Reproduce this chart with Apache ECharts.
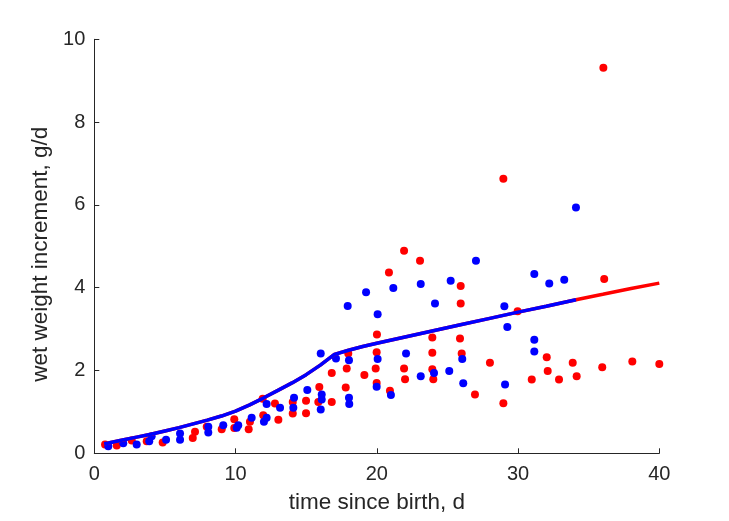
<!DOCTYPE html>
<html><head><meta charset="utf-8">
<script src="https://cdn.jsdelivr.net/npm/echarts@6/dist/echarts.min.js"></script>
<style>html,body{margin:0;padding:0;background:#fff}#c{width:729px;height:521px}</style>
</head><body><div id="c"></div>
<script>
const redPoints = [
[0.76,0.21],[1.59,0.19],[2.65,0.31],[3.71,0.29],[4.84,0.26],[6.97,0.37],[7.13,0.52],[7.96,0.64],[9.02,0.58],[9.91,0.82],[9.91,0.61],
[10.93,0.58],[11.02,0.76],[11.96,0.92],[11.92,1.32],[12.79,1.20],[13.03,0.81],[14.05,1.24],[14.05,0.96],[14.99,1.27],[14.99,0.97],
[15.93,1.60],[15.86,1.24],[16.81,1.24],[16.81,1.94],[17.87,2.05],[17.80,1.59],[17.98,2.41],[19.12,1.89],[19.92,2.05],[19.99,1.70],
[19.99,2.44],[20.01,2.87],[20.93,1.51],[20.86,4.37],[21.93,4.89],[21.93,2.05],[22.00,1.79],[23.06,4.65],[23.93,2.80],[23.93,2.43],
[23.93,2.03],[24.00,1.79],[25.94,4.04],[25.94,3.62],[25.89,2.77],[26.01,2.41],[26.95,1.42],[28.96,6.63],[36.10,4.21],[29.97,3.43],
[28.01,2.19],[32.03,2.32],[32.10,1.99],[30.97,1.78],[32.90,1.78],[33.87,2.19],[34.15,1.86],[35.96,2.08],[38.09,2.22],[40.00,2.16],
[28.96,1.21],[36.04,9.31]
];
const bluePoints = [
[0.99,0.17],[2.05,0.24],[3.00,0.21],[3.89,0.29],[4.06,0.41],[5.08,0.33],[6.07,0.33],[6.07,0.48],[8.07,0.50],[8.07,0.64],[9.13,0.68],
[10.08,0.62],[10.19,0.68],[11.14,0.86],[12.01,0.76],[12.20,0.86],[12.20,1.19],[13.15,1.10],[14.14,1.34],[14.09,1.10],[15.08,1.53],
[16.03,2.41],[16.10,1.42],[16.10,1.30],[16.03,1.06],[17.11,2.29],[17.94,3.56],[18.03,2.25],[18.03,1.34],[18.05,1.19],[19.24,3.89],
[20.06,3.36],[20.06,2.28],[19.99,1.61],[21.00,1.41],[21.17,3.99],[22.07,2.41],[23.11,4.09],[23.11,1.86],[24.12,3.62],[24.05,1.94],
[25.13,1.99],[25.23,4.17],[26.05,2.28],[26.12,1.69],[27.02,4.65],[34.10,5.94],[31.15,4.33],[32.21,4.10],[33.27,4.19],[29.03,3.55],
[29.24,3.05],[31.15,2.74],[31.15,2.46],[29.08,1.66]
];
const fitDays = [0.7,1,2,3,4,5,6,7,8,9,10,11,12,13,14,15,16,17,18,19,20,22,24,26,28,30,32,34.1,36,38,40];
const fitValues = [0.23,0.25,0.32,0.39,0.46,0.54,0.62,0.71,0.80,0.90,1.02,1.17,1.34,1.52,1.70,1.90,2.13,2.39,2.49,2.58,2.66,2.81,2.96,3.11,3.26,3.41,3.55,3.71,3.84,3.98,4.11];
const blueFitEnd = 34.1;
const xTicks = [0,10,20,30,40];
const yTicks = [0,2,4,6,8,10];

const redFit = fitDays.map((d,i)=>[d,fitValues[i]]);
const blueFit = redFit.filter(p=>p[0]<=blueFitEnd);

const txt = '#262626';
const font = "'Liberation Sans', Arial, Helvetica, sans-serif";
const chart = echarts.init(document.getElementById('c'), null, {renderer:'canvas'});
chart.setOption({
  animation:false,
  backgroundColor:'#fff',
  grid:{left:94.3,right:69.7,top:39.3,bottom:67.7,containLabel:false},
  xAxis:{type:'value',min:xTicks[0],max:xTicks[xTicks.length-1],interval:10,
    name:'time since birth, d',nameLocation:'middle',nameGap:38,
    nameTextStyle:{color:txt,fontSize:22.5,fontFamily:font},
    axisLine:{show:true,lineStyle:{color:txt,width:1}},
    axisTick:{show:true,inside:true,length:5,lineStyle:{color:txt}},
    axisLabel:{color:txt,fontSize:20,fontFamily:font,margin:11},
    splitLine:{show:false}},
  yAxis:{type:'value',min:yTicks[0],max:yTicks[yTicks.length-1],interval:2,
    name:'wet weight increment, g/d',nameLocation:'middle',nameGap:36,
    nameTextStyle:{color:txt,fontSize:22.5,fontFamily:font,padding:[0,16,0,0]},
    axisLine:{show:true,lineStyle:{color:txt,width:1}},
    axisTick:{show:true,inside:true,length:5,lineStyle:{color:txt}},
    axisLabel:{color:txt,fontSize:20,fontFamily:font,margin:9},
    splitLine:{show:false}},
  series:[
    {type:'scatter',data:redPoints,symbol:'circle',symbolSize:8,clip:false,itemStyle:{color:'#ff0000',opacity:1},z:2},
    {type:'scatter',data:bluePoints,symbol:'circle',symbolSize:8,clip:false,itemStyle:{color:'#0000ff',opacity:1},z:3},
    {type:'line',data:redFit,showSymbol:false,symbol:'none',lineStyle:{color:'#ff0000',width:3.5},z:4},
    {type:'line',data:blueFit,showSymbol:false,symbol:'none',lineStyle:{color:'#0000ff',width:3.5},z:5}
  ]
});
</script></body></html>
